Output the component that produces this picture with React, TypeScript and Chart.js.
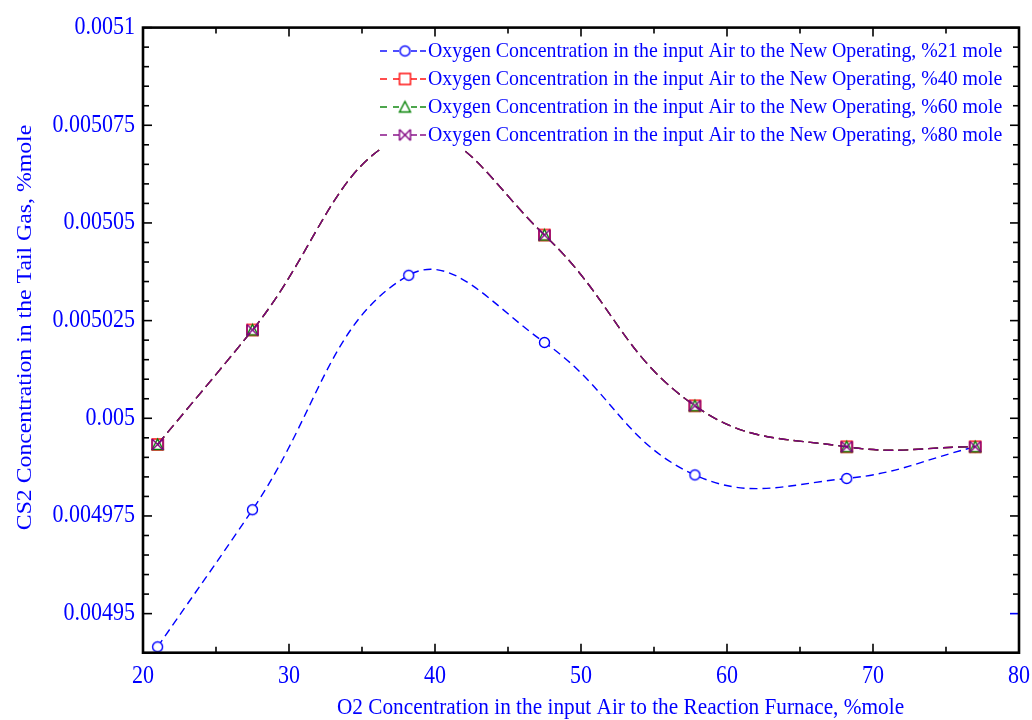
import React, { useEffect, useRef } from "react";
import { Chart, registerables } from "chart.js";

Chart.register(...registerables);

// ---------------- data ----------------
const xValues = [21, 27.5, 38.2, 47.5, 57.8, 68.2, 77];
const series21 = [0.0049415, 0.0049766, 0.0050366, 0.0050194, 0.0049855, 0.0049846, 0.0049927];
const series40 = [0.0049933, 0.0050226, 0.0050725, 0.0050469, 0.0050032, 0.0049927, 0.0049927];
const series60 = [0.0049933, 0.0050226, 0.0050725, 0.0050469, 0.0050032, 0.0049927, 0.0049927];
const series80 = [0.0049933, 0.0050226, 0.0050725, 0.0050469, 0.0050032, 0.0049927, 0.0049927];

const seriesLabels = [
  "Oxygen Concentration in the input Air to the New Operating, %21 mole",
  "Oxygen Concentration in the input Air to the New Operating, %40 mole",
  "Oxygen Concentration in the input Air to the New Operating, %60 mole",
  "Oxygen Concentration in the input Air to the New Operating, %80 mole",
];

const xTickValues = [20, 30, 40, 50, 60, 70, 80];
const xTickLabels = ["20", "30", "40", "50", "60", "70", "80"];
const xMinorTicks = [25, 35, 45, 55, 65, 75];
const yTickValues = [0.00495, 0.004975, 0.005, 0.005025, 0.00505, 0.005075, 0.0051];
const yTickLabels = ["0.00495", "0.004975", "0.005", "0.005025", "0.00505", "0.005075", "0.0051"];
const yMinorTicks = [
  0.004955, 0.00496, 0.004965, 0.00497, 0.00498, 0.004985, 0.00499, 0.004995,
  0.005005, 0.00501, 0.005015, 0.00502, 0.00503, 0.005035, 0.00504, 0.005045,
  0.005055, 0.00506, 0.005065, 0.00507, 0.00508, 0.005085, 0.00509, 0.005095,
];

const xTitle = "O2 Concentration in the input Air to the Reaction Furnace, %mole";
const yTitle = "CS2 Concentration in the Tail Gas, %mole";

// ---------------- styles ----------------
const FONT = "'Liberation Serif', 'Times New Roman', serif";
const BLUE = "#0000ff";
const RED = "#ff0000";
const GREEN = "#008000";
const PURPLE = "#800080";
const STRETCH = 1.1;

function makeMarker(kind: string, color: string): HTMLCanvasElement {
  const S = 17;
  const c = S / 2;
  const cv = document.createElement("canvas");
  cv.width = S;
  cv.height = S;
  const ctx = cv.getContext("2d")!;
  ctx.strokeStyle = color;
  ctx.lineWidth = 1.4;
  const h = 5.5;
  if (kind === "circle") {
    ctx.beginPath();
    ctx.arc(c, c, 5, 0, Math.PI * 2);
    ctx.fillStyle = "#ffffff";
    ctx.fill();
    ctx.stroke();
  } else if (kind === "square") {
    ctx.fillStyle = "#ffffff";
    ctx.fillRect(c - h, c - h, 2 * h, 2 * h);
    ctx.strokeRect(c - h, c - h, 2 * h, 2 * h);
  } else if (kind === "triangle") {
    ctx.beginPath();
    ctx.moveTo(c, c - h);
    ctx.lineTo(c + h, c + h - 0.5);
    ctx.lineTo(c - h, c + h - 0.5);
    ctx.closePath();
    ctx.stroke();
  } else if (kind === "bowtie") {
    ctx.beginPath();
    ctx.moveTo(c - h, c - h);
    ctx.lineTo(c + h, c + h);
    ctx.moveTo(c + h, c - h);
    ctx.lineTo(c - h, c + h);
    ctx.moveTo(c - h, c - h);
    ctx.lineTo(c - h, c + h);
    ctx.moveTo(c + h, c - h);
    ctx.lineTo(c + h, c + h);
    ctx.stroke();
  }
  return cv;
}

function stretchedText(
  ctx: CanvasRenderingContext2D,
  text: string,
  x: number,
  y: number,
  size: number,
  align: CanvasTextAlign,
  rotate = false
) {
  ctx.save();
  ctx.translate(x, y);
  if (rotate) {
    ctx.rotate(-Math.PI / 2);
    ctx.scale(STRETCH, 1);
  } else {
    ctx.scale(1, STRETCH);
  }
  ctx.font = `${size}px ${FONT}`;
  ctx.fillStyle = BLUE;
  ctx.textAlign = align;
  ctx.textBaseline = "middle";
  ctx.fillText(text, 0, 0);
  ctx.restore();
}

export default function App() {
  const canvasRef = useRef<HTMLCanvasElement | null>(null);

  useEffect(() => {
    document.body.style.margin = "0";
    const canvas = canvasRef.current;
    if (!canvas) return;

    const markers = [
      makeMarker("circle", BLUE),
      makeMarker("square", RED),
      makeMarker("triangle", GREEN),
      makeMarker("bowtie", PURPLE),
    ];
    const colors = [BLUE, RED, GREEN, PURPLE];
    const dashes = [[8, 5], [10, 5], [10, 5], [10, 5]];
    const orders = [4, 3, 2, 1];
    const allSeries = [series21, series40, series60, series80];

    const datasets = allSeries.map((vals, i) => ({
      label: seriesLabels[i],
      data: xValues.map((x, j) => ({ x, y: vals[j] })),
      borderColor: colors[i],
      borderWidth: 1.4,
      borderDash: dashes[i],
      tension: 0.42,
      fill: false,
      order: orders[i],
      pointStyle: markers[i] as any,
      pointRadius: 6,
      pointHoverRadius: 6,
      backgroundColor: "#ffffff",
    }));

    const framePlugin = {
      id: "frameTicks",
      afterDraw(chart: any) {
        const ctx = chart.ctx;
        const { left, right, top, bottom } = chart.chartArea;
        const xs = chart.scales.x;
        const ys = chart.scales.y;
        ctx.save();
        ctx.lineWidth = 1.6;
        const tick = (x1: number, y1: number, x2: number, y2: number, col = "#000000") => {
          ctx.strokeStyle = col;
          ctx.beginPath();
          ctx.moveTo(x1, y1);
          ctx.lineTo(x2, y2);
          ctx.stroke();
        };
        const majLen = 9;
        const minLen = 6;
        xTickValues.forEach((v) => {
          const p = xs.getPixelForValue(v);
          tick(p, bottom, p, bottom - majLen);
          tick(p, top, p, top + majLen);
        });
        xMinorTicks.forEach((v) => {
          const p = xs.getPixelForValue(v);
          tick(p, bottom, p, bottom - minLen);
          tick(p, top, p, top + minLen);
        });
        yTickValues.forEach((v, i) => {
          const p = ys.getPixelForValue(v);
          tick(left, p, left + majLen, p);
          tick(right, p, right - majLen, p, i === 0 ? BLUE : "#000000");
        });
        yMinorTicks.forEach((v) => {
          const p = ys.getPixelForValue(v);
          tick(left, p, left + minLen, p);
          tick(right, p, right - minLen, p);
        });
        ctx.strokeStyle = "#000000";
        ctx.lineWidth = 2.6;
        ctx.strokeRect(left, top, right - left, bottom - top);

        // tick labels
        yTickValues.forEach((v, i) => {
          const p = ys.getPixelForValue(v);
          stretchedText(ctx, yTickLabels[i], 135, p, 22, "right");
        });
        xTickValues.forEach((v, i) => {
          const p = xs.getPixelForValue(v);
          stretchedText(ctx, xTickLabels[i], p, 677, 22, "center");
        });
        // axis titles
        stretchedText(ctx, xTitle, 620.5, 707.5, 21.3, "center");
        stretchedText(ctx, yTitle, 25, 327.5, 21.6, "center", true);
        ctx.restore();
      },
    };

    const legendPlugin = {
      id: "customLegend",
      afterDatasetsDraw(chart: any) {
        const ctx = chart.ctx;
        ctx.save();
        ctx.fillStyle = "#ffffff";
        ctx.fillRect(372, 37, 636, 112);
        const rowY = [51, 79, 107, 135];
        seriesLabels.forEach((lab, i) => {
          const y = rowY[i];
          ctx.strokeStyle = colors[i];
          ctx.lineWidth = 1.4;
          ctx.setLineDash([]);
          const segs = [[380, 387], [393, 399], [411, 417], [420, 426]];
          segs.forEach(([a, b]) => {
            ctx.beginPath();
            ctx.moveTo(a, y);
            ctx.lineTo(b, y);
            ctx.stroke();
          });
          const m = markers[i];
          ctx.drawImage(m, 405 - m.width / 2, y - m.height / 2);
          stretchedText(ctx, lab, 428, y, 19.85, "left");
        });
        ctx.restore();
      },
    };

    const chart = new Chart(canvas, {
      type: "line",
      data: { datasets: datasets as any },
      plugins: [legendPlugin, framePlugin],
      options: {
        animation: false,
        responsive: false,
        maintainAspectRatio: false,
        layout: { padding: { top: 27.6, right: 13, left: 0, bottom: 0 } },
        plugins: {
          legend: { display: false },
          tooltip: { enabled: false },
        },
        scales: {
          x: {
            type: "linear",
            min: 20,
            max: 80,
            grid: { display: false, drawTicks: false },
            border: { display: false },
            afterBuildTicks: (s: any) => {
              s.ticks = xTickValues.map((v) => ({ value: v }));
            },
            afterFit: (s: any) => {
              s.height = 67.3;
              s.paddingLeft = 0;
              s.paddingRight = 0;
            },
            ticks: { display: false },
            title: { display: false },
          },
          y: {
            type: "linear",
            min: 0.00494,
            max: 0.0051,
            grid: { display: false, drawTicks: false },
            border: { display: false },
            afterBuildTicks: (s: any) => {
              s.ticks = yTickValues.map((v) => ({ value: v }));
            },
            afterFit: (s: any) => {
              s.width = 143;
              s.paddingTop = 0;
              s.paddingBottom = 0;
            },
            ticks: { display: false },
            title: { display: false },
          },
        },
      },
    });

    return () => chart.destroy();
  }, []);

  return (
    <div style={{ width: 1032, height: 720, position: "relative", background: "#ffffff" }}>
      <canvas ref={canvasRef} width={1032} height={720} style={{ display: "block" }} />
    </div>
  );
}
